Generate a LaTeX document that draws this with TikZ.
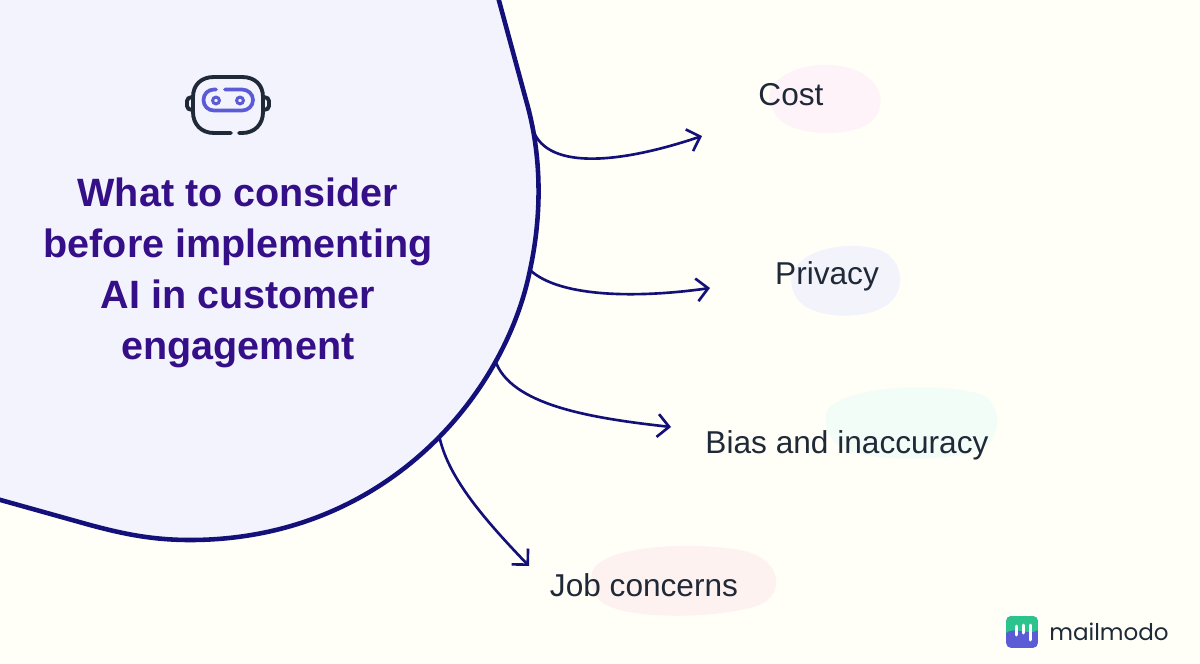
\documentclass[tikz,border=0pt]{standalone}
\usepackage{fontspec}
\setmainfont{Liberation Sans}
\newfontfamily\logofont{Poppins}
\usetikzlibrary{arrows.meta}
\definecolor{bgcol}{HTML}{FFFFF8}
\definecolor{blobcol}{HTML}{F3F3FE}
\definecolor{linecol}{HTML}{14107A}
\definecolor{titlecol}{HTML}{340F87}
\definecolor{labelcol}{HTML}{1F2937}
\definecolor{iconcol}{HTML}{5B5BD6}
\definecolor{logogreen}{HTML}{2BC48F}
\definecolor{costcol}{HTML}{FEF3F9}
\definecolor{privcol}{HTML}{F3F3FB}
\definecolor{biascol}{HTML}{F3FDF7}
\definecolor{jobcol}{HTML}{FDF2F0}
\tikzset{
  arrowline/.style={draw=linecol, line width=1.5pt, -{Straight Barb[length=6.5pt,width=13pt,line width=1.5pt]}},
  labelnode/.style={text=labelcol, font=\fontsize{18}{20}\selectfont, inner sep=0pt},
  iconline/.style={draw=labelcol, line width=2.2pt, line cap=round},
  visorline/.style={draw=iconcol, line width=2.1pt, line cap=round}
}
\begin{document}
\begin{tikzpicture}[x=0.02cm, y=-0.02cm]
  \useasboundingbox (0,0) rectangle (1200,663);
  \fill[bgcol] (0,0) rectangle (1200,663);
  %main shape
  \filldraw[fill=blobcol, draw=linecol, line width=2.6pt]
    (498,-3) -- (526,100) .. controls (542,155) and (542,215) .. (530,270)
    .. controls (505,395) and (385,540) .. (190,540)
    .. controls (150,540) and (120,533) .. (90,525) -- (-3,499) -- (-3,-3) -- cycle;
  %soft patches behind labels
  \fill[costcol] (770,90) .. controls (785,62) and (840,58) .. (865,75)
    .. controls (888,90) and (885,120) .. (860,128)
    .. controls (830,138) and (790,132) .. (778,118) .. controls (770,108) and (768,98) .. (770,90) -- cycle;
  \fill[privcol] (792,275) .. controls (800,248) and (850,240) .. (880,250)
    .. controls (905,260) and (908,295) .. (882,308)
    .. controls (860,320) and (815,318) .. (800,302) .. controls (793,295) and (790,285) .. (792,275) -- cycle;
  \fill[biascol] (827,410) .. controls (845,385) and (940,382) .. (980,394)
    .. controls (1005,402) and (1002,445) .. (975,452)
    .. controls (940,462) and (860,462) .. (838,445) .. controls (825,435) and (824,420) .. (827,410) -- cycle;
  \fill[jobcol] (592,572) .. controls (600,548) and (680,540) .. (740,550)
    .. controls (785,558) and (788,600) .. (750,608)
    .. controls (700,620) and (625,618) .. (603,603) .. controls (592,595) and (590,582) .. (592,572) -- cycle;
  %robot icon
  \draw[iconline] (231,133) -- (214,133) .. controls (201,133) and (193,124) .. (193,112)
    -- (193,97) .. controls (193,85) and (201,77) .. (214,77) -- (242,77)
    .. controls (255,77) and (263,85) .. (263,97) -- (263,112)
    .. controls (263,124) and (255,133) .. (242,133) -- (239,133);
  \draw[iconline] (192,97) .. controls (189,97) and (187,99) .. (187,101) -- (187,106)
    .. controls (187,108) and (189,110) .. (192,110);
  \draw[iconline] (264,97) .. controls (267,97) and (269,99) .. (269,101) -- (269,106)
    .. controls (269,108) and (267,110) .. (264,110);
  \draw[visorline] (225,89.5) -- (242,89.5) .. controls (248,89.5) and (253,94) .. (253,100)
    .. controls (253,106) and (248,110.5) .. (242,110.5) -- (214,110.5)
    .. controls (208,110.5) and (203.5,106) .. (203.5,100) .. controls (203.5,94) and (208,89.5) .. (214,89.5) -- (216,89.5);
  \draw[visorline, line width=1.7pt] (216,100.5) circle (3.4);
  \draw[visorline, line width=1.7pt] (240,100.5) circle (3.4);
  %title
  \node[text=titlecol, font=\fontsize{22.5}{29}\selectfont\bfseries, align=center, inner sep=0pt] (title) at (238,273)
    {What to consider\\before implementing\\AI in customer\\engagement};
  %labels
  \node[labelnode] (cost) at (791,95) {Cost};
  \node[labelnode] (privacy) at (827,276) {Privacy};
  \node[labelnode] (bias) at (847,445) {Bias and inaccuracy};
  \node[labelnode] (job) at (644,585) {Job concerns};
  %arrow ends
  \coordinate (start1) at (533,130);
  \coordinate (end1) at (702,136);
  \coordinate (start2) at (530,270);
  \coordinate (end2) at (710,288);
  \coordinate (start3) at (495,360);
  \coordinate (end3) at (671,427);
  \coordinate (start4) at (439,435);
  \coordinate (end4) at (529,566);
  % arrows
  \draw[arrowline] (start1) .. controls (548,172) and (625,162) .. (end1);
  \draw[arrowline] (start2) .. controls (560,298) and (640,298) .. (end2);
  \draw[arrowline] (start3) .. controls (510,405) and (590,418) .. (end3);
  \draw[arrowline] (start4) .. controls (447,475) and (480,515) .. (end4);
  %logo
  \begin{scope}
    \clip[rounded corners=3pt] (1006,616) rectangle (1038,648);
    \fill[iconcol] (1006,616) rectangle (1038,648);
    \fill[logogreen] (1006,616) -- (1038,616) -- (1038,630) .. controls (1030,636) and (1014,626) .. (1006,633) -- cycle;
  \end{scope}
  \draw[white, line width=1.7pt, line cap=round] (1016,626) -- (1016,635);
  \draw[white, line width=1.7pt, line cap=round] (1023,625) -- (1023,633);
  \draw[white, line width=1.7pt, line cap=round] (1030,625) -- (1030,640);
  \node[text=labelcol, font=\logofont\fontsize{13.1}{16}\selectfont, inner sep=0pt] (logo) at (1109,632) {mailmodo};
\end{tikzpicture}
\end{document}
